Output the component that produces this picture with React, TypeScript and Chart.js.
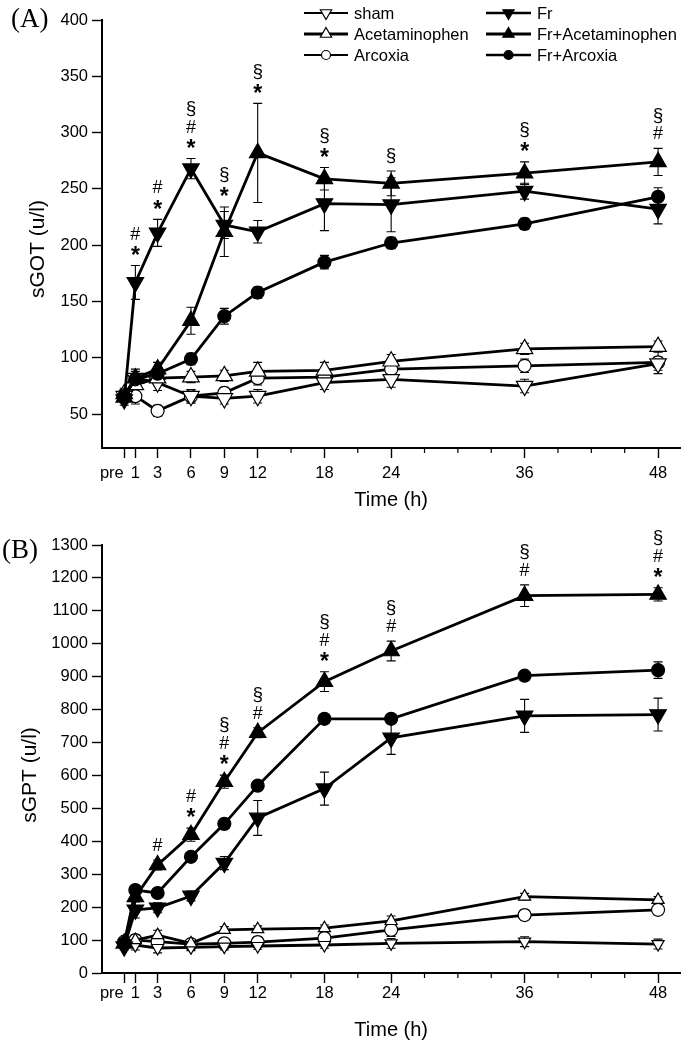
import React, { useEffect, useRef } from "react";
import { Chart, registerables } from "chart.js";

Chart.register(...registerables);

const FONT = "'Liberation Sans', Arial, Helvetica, sans-serif";
const SERIF = "'Liberation Serif', 'Times New Roman', serif";

// ---------- shared categories ----------
const timePoints = [0, 1, 3, 6, 9, 12, 18, 24, 36, 48];
const xTickValues = [0, 1, 3, 6, 9, 12, 18, 24, 36, 48];
const xTickLabels = ["pre", "1", "3", "6", "9", "12", "18", "24", "36", "48"];
const xMinorTickValues = [15, 21, 27, 30, 33, 39, 42, 45];
const groupLabels = ["sham", "Acetaminophen", "Arcoxia", "Fr", "Fr+Acetaminophen", "Fr+Arcoxia"];

// ---------- Panel A: sGOT (u/l) ----------
const gotSham = [66, 82, 78, 66, 64, 66, 78, 81, 75, 95];
const gotShamErr = [5, 6, 7, 6, 5, 6, 6, 7, 6, 6];
const gotAcet = [68, 76, 82, 83, 84, 88, 89, 97, 108, 110];
const gotAcetErr = [5, 7, 6, 5, 5, 8, 7, 6, 5, 5];
const gotArcoxia = [67, 66, 53, 66, 69, 82, 83, 90, 93, 96];
const gotArcoxiaErr = [5, 7, 5, 6, 5, 6, 7, 6, 6, 10];
const gotFr = [63, 167, 211, 268, 218, 212, 237, 236, 248, 232];
const gotFrErr = [5, 15, 12, 9, 12, 10, 24, 24, 7, 13];
const gotFrAcet = [65, 82, 90, 133, 212, 282, 259, 255, 264, 274];
const gotFrAcetErr = [5, 8, 6, 12, 22, 44, 10, 11, 10, 12];
const gotFrArcoxia = [66, 81, 86, 99, 137, 158, 185, 202, 219, 243];
const gotFrArcoxiaErr = [4, 5, 5, 5, 7, 5, 6, 5, 5, 8];
const gotYTicks = [50, 100, 150, 200, 250, 300, 350, 400];
const gotSig = ["", "#*", "#*", "§#*", "§*", "§*", "§*", "§", "§*", "§#"];

// ---------- Panel B: sGPT (u/l) ----------
const gptSham = [90, 85, 76, 78, 80, 82, 85, 90, 95, 88];
const gptShamErr = [10, 15, 15, 10, 10, 10, 10, 15, 15, 15];
const gptAcet = [95, 100, 115, 90, 131, 133, 136, 158, 232, 222];
const gptAcetErr = [10, 15, 15, 10, 10, 10, 10, 15, 10, 10];
const gptArcoxia = [95, 100, 95, 88, 90, 94, 106, 131, 176, 192];
const gptArcoxiaErr = [10, 15, 15, 10, 15, 15, 15, 20, 15, 15];
const gptFr = [80, 192, 198, 234, 334, 471, 560, 714, 781, 785];
const gptFrErr = [10, 25, 15, 15, 20, 53, 50, 50, 50, 50];
const gptFrAcet = [90, 231, 328, 420, 581, 730, 885, 978, 1146, 1150];
const gptFrAcetErr = [8, 15, 15, 20, 20, 15, 30, 30, 33, 20];
const gptFrArcoxia = [90, 252, 243, 353, 453, 569, 772, 772, 903, 920];
const gptFrArcoxiaErr = [8, 10, 10, 10, 10, 10, 10, 10, 12, 25];
const gptYTicks = [0, 100, 200, 300, 400, 500, 600, 700, 800, 900, 1000, 1100, 1200, 1300];
const gptSig = ["", "", "#", "#*", "§#*", "§#", "§#*", "§#", "§#", "§#*"];

// ---------- styles ----------
type GroupStyle = { shape: "down" | "up" | "circle"; filled: boolean; legendWidth: number };
const groupStyles: GroupStyle[] = [
  { shape: "down", filled: false, legendWidth: 2 },
  { shape: "up", filled: false, legendWidth: 3 },
  { shape: "circle", filled: false, legendWidth: 2 },
  { shape: "down", filled: true, legendWidth: 2.5 },
  { shape: "up", filled: true, legendWidth: 3 },
  { shape: "circle", filled: true, legendWidth: 2.5 },
];

function drawMarker(ctx: CanvasRenderingContext2D, shape: string, filled: boolean, x: number, y: number, r: number) {
  ctx.beginPath();
  if (shape === "circle") {
    ctx.arc(x, y, r, 0, Math.PI * 2);
  } else {
    const sgn = shape === "up" ? 1 : -1;
    const h = (Math.sqrt(3) / 2) * r;
    ctx.moveTo(x, y - sgn * r);
    ctx.lineTo(x + h, y + sgn * r / 2);
    ctx.lineTo(x - h, y + sgn * r / 2);
    ctx.closePath();
  }
  ctx.fillStyle = filled ? "#000" : "#fff";
  ctx.fill();
  ctx.lineWidth = 1.2;
  ctx.strokeStyle = "#000";
  ctx.stroke();
}

// ---------- plugins ----------
const errorBarPlugin = {
  id: "errorBars",
  beforeDatasetsDraw(chart: any) {
    const ctx = chart.ctx;
    const yS = chart.scales.y;
    chart.data.datasets.forEach((ds: any, di: number) => {
      const meta = chart.getDatasetMeta(di);
      if (!ds.errors) return;
      ctx.save();
      ctx.strokeStyle = "#000";
      ctx.lineWidth = 1.1;
      meta.data.forEach((pt: any, i: number) => {
        const v = ds.data[i].y;
        const e = ds.errors[i];
        const x = pt.x;
        const yt = yS.getPixelForValue(v + e);
        const yb = yS.getPixelForValue(v - e);
        ctx.beginPath();
        ctx.moveTo(x, yt);
        ctx.lineTo(x, yb);
        ctx.moveTo(x - 4.5, yt);
        ctx.lineTo(x + 4.5, yt);
        ctx.moveTo(x - 4.5, yb);
        ctx.lineTo(x + 4.5, yb);
        ctx.stroke();
      });
      ctx.restore();
    });
  },
};

const sigPlugin = {
  id: "sigMarks",
  afterDatasetsDraw(chart: any, _a: any, opts: any) {
    const marks: string[] = opts && opts.marks;
    if (!marks) return;
    const ctx = chart.ctx;
    const xS = chart.scales.x;
    const yS = chart.scales.y;
    ctx.save();
    ctx.fillStyle = "#000";
    ctx.textAlign = "center";
    ctx.textBaseline = "middle";
    marks.forEach((m, i) => {
      if (!m) return;
      let top = -Infinity;
      chart.data.datasets.forEach((ds: any) => {
        const v = ds.data[i].y + (ds.errors ? ds.errors[i] : 0);
        if (v > top) top = v;
      });
      const x = xS.getPixelForValue(timePoints[i]);
      let y = yS.getPixelForValue(top) - 14;
      Array.from(m).reverse().forEach((c) => {
        if (c === "*") {
          ctx.font = `bold 23px ${FONT}`;
          ctx.fillText(c, x, y + 5);
          y -= 17;
        } else if (c === "#") {
          ctx.font = `18px ${FONT}`;
          ctx.fillText(c, x, y);
          y -= 18;
        } else {
          ctx.font = `19px ${FONT}`;
          ctx.fillText(c, x, y - 1);
          y -= 18;
        }
      });
    });
    ctx.restore();
  },
};

const decorPlugin = {
  id: "decor",
  afterDraw(chart: any, _a: any, opts: any) {
    const ctx = chart.ctx;
    const xS = chart.scales.x;
    const area = chart.chartArea;
    ctx.save();
    // minor ticks on x axis
    ctx.strokeStyle = "#000";
    ctx.lineWidth = 1.2;
    xMinorTickValues.forEach((v) => {
      const x = xS.getPixelForValue(v);
      ctx.beginPath();
      ctx.moveTo(x, area.bottom);
      ctx.lineTo(x, area.bottom + 5);
      ctx.stroke();
    });
    // y axis title
    ctx.fillStyle = "#000";
    ctx.save();
    ctx.translate(opts.yTitleX, opts.yTitleY);
    ctx.rotate(-Math.PI / 2);
    ctx.font = `21px ${FONT}`;
    ctx.textAlign = "center";
    ctx.textBaseline = "middle";
    ctx.fillText(opts.yTitle, 0, 0);
    ctx.restore();
    // panel label
    ctx.font = `27px ${SERIF}`;
    ctx.textAlign = "left";
    ctx.textBaseline = "alphabetic";
    ctx.fillText(opts.panel, opts.panelX, opts.panelY);
    // legend
    if (opts.legend) {
      const cols = [
        { x0: 304, x1: 348, tx: 354 },
        { x0: 486, x1: 531, tx: 537 },
      ];
      const rows = [13, 34, 55];
      groupLabels.forEach((name, gi) => {
        const col = cols[Math.floor(gi / 3)];
        const y = rows[gi % 3];
        const st = groupStyles[gi];
        ctx.strokeStyle = "#000";
        ctx.lineWidth = st.legendWidth;
        ctx.beginPath();
        ctx.moveTo(col.x0, y);
        ctx.lineTo(col.x1, y);
        ctx.stroke();
        drawMarker(ctx, st.shape, st.filled, (col.x0 + col.x1) / 2, y, st.shape === "circle" ? 4.5 : 6.5);
        ctx.fillStyle = "#000";
        ctx.font = `16.5px ${FONT}`;
        ctx.textAlign = "left";
        ctx.textBaseline = "middle";
        ctx.fillText(name, col.tx, y + 1);
      });
    }
    ctx.restore();
  },
};

// ---------- config builder ----------
type Panel = {
  series: number[][];
  errors: number[][];
  yMin: number;
  yMax: number;
  yTicks: number[];
  sig: string[];
  yTitle: string;
  panel: string;
  panelX: number;
  panelY: number;
  yTitleX: number;
  yTitleY: number;
  legend: boolean;
  padTop: number;
  xHeight: number;
  tickPad: number;
  titlePad: number;
  triR: number;
  openTriR: number;
  circR: number;
};

function buildConfig(p: Panel): any {
  // draw order: filled series on top (index 0 drawn last)
  const order = [4, 3, 5, 1, 0, 2];
  const datasets = order.map((gi) => {
    const st = groupStyles[gi];
    const r = st.shape === "circle" ? p.circR : st.filled ? p.triR : p.openTriR;
    return {
      label: groupLabels[gi],
      data: timePoints.map((t, i) => ({ x: t, y: p.series[gi][i] })),
      errors: p.errors[gi],
      borderColor: "#000",
      borderWidth: 2.8,
      backgroundColor: st.filled ? "#000" : "#fff",
      pointBackgroundColor: st.filled ? "#000" : "#fff",
      pointBorderColor: "#000",
      pointBorderWidth: 1.2,
      pointStyle: st.shape === "circle" ? "circle" : "triangle",
      pointRotation: st.shape === "down" ? 180 : 0,
      pointRadius: r,
      pointHoverRadius: r,
      tension: 0,
      fill: false,
    };
  });
  const tickFont = { family: FONT, size: 16.5 };
  return {
    type: "line",
    data: { datasets },
    plugins: [errorBarPlugin, sigPlugin, decorPlugin],
    options: {
      animation: false,
      responsive: false,
      devicePixelRatio: 1,
      layout: { padding: { top: p.padTop, right: 4, left: 0, bottom: 0 } },
      plugins: {
        legend: { display: false },
        tooltip: { enabled: false },
        sigMarks: { marks: p.sig },
        decor: {
          yTitle: p.yTitle,
          yTitleX: p.yTitleX,
          yTitleY: p.yTitleY,
          panel: p.panel,
          panelX: p.panelX,
          panelY: p.panelY,
          legend: p.legend,
        },
      },
      scales: {
        x: {
          type: "linear",
          min: -2,
          max: 50,
          afterBuildTicks: (s: any) => {
            s.ticks = xTickValues.map((v) => ({ value: v }));
          },
          afterFit: (s: any) => {
            s.height = p.xHeight;
          },
          ticks: {
            autoSkip: false,
            maxRotation: 0,
            color: "#000",
            font: tickFont,
            padding: p.tickPad,
            callback: (v: number) => {
              const idx = xTickValues.indexOf(v);
              if (idx < 0) return "";
              return idx === 0 ? xTickLabels[idx] + "\u2002\u2002\u2002" : xTickLabels[idx];
            },
          },
          grid: { display: true, drawOnChartArea: false, drawTicks: true, tickLength: 10, tickColor: "#000", tickWidth: 1.4 },
          border: { display: true, color: "#000", width: 2 },
          title: {
            display: true,
            text: "Time (h)",
            color: "#000",
            font: { family: FONT, size: 20 },
            padding: { top: 0, bottom: p.titlePad },
          },
        },
        y: {
          type: "linear",
          min: p.yMin,
          max: p.yMax,
          afterBuildTicks: (s: any) => {
            s.ticks = p.yTicks.map((v) => ({ value: v }));
          },
          afterFit: (s: any) => {
            s.width = 102;
          },
          ticks: { color: "#000", font: tickFont, padding: 4, callback: (v: number) => String(v) },
          grid: { display: true, drawOnChartArea: false, drawTicks: true, tickLength: 10, tickColor: "#000", tickWidth: 1.4 },
          border: { display: true, color: "#000", width: 2 },
          title: { display: false },
        },
      },
    },
  };
}

export default function App() {
  const refA = useRef<HTMLCanvasElement>(null);
  const refB = useRef<HTMLCanvasElement>(null);

  useEffect(() => {
    const a = new Chart(
      refA.current as HTMLCanvasElement,
      buildConfig({
        series: [gotSham, gotAcet, gotArcoxia, gotFr, gotFrAcet, gotFrArcoxia],
        errors: [gotShamErr, gotAcetErr, gotArcoxiaErr, gotFrErr, gotFrAcetErr, gotFrArcoxiaErr],
        yMin: 20,
        yMax: 400,
        yTicks: gotYTicks,
        sig: gotSig,
        yTitle: "sGOT (u/l)",
        panel: "(A)",
        panelX: 11,
        panelY: 27,
        yTitleX: 38,
        yTitleY: 249,
        legend: true,
        padTop: 20,
        xHeight: 75,
        tickPad: 6,
        titlePad: 11,
        triR: 9.5,
        openTriR: 9.5,
        circR: 6.5,
      })
    );
    const b = new Chart(
      refB.current as HTMLCanvasElement,
      buildConfig({
        series: [gptSham, gptAcet, gptArcoxia, gptFr, gptFrAcet, gptFrArcoxia],
        errors: [gptShamErr, gptAcetErr, gptArcoxiaErr, gptFrErr, gptFrAcetErr, gptFrArcoxiaErr],
        yMin: 0,
        yMax: 1300,
        yTicks: gptYTicks,
        sig: gptSig,
        yTitle: "sGPT (u/l)",
        panel: "(B)",
        panelX: 2,
        panelY: 35,
        yTitleX: 30,
        yTitleY: 252,
        legend: false,
        padTop: 22,
        xHeight: 73,
        tickPad: 1,
        titlePad: 4,
        triR: 9.5,
        openTriR: 7,
        circR: 6.5,
      })
    );
    return () => {
      a.destroy();
      b.destroy();
    };
  }, []);

  return (
    <div style={{ position: "absolute", left: 0, top: 0, width: 691, height: 1046, background: "#fff" }}>
      <canvas ref={refA} width={691} height={523} style={{ display: "block" }} />
      <canvas ref={refB} width={691} height={523} style={{ display: "block" }} />
    </div>
  );
}
